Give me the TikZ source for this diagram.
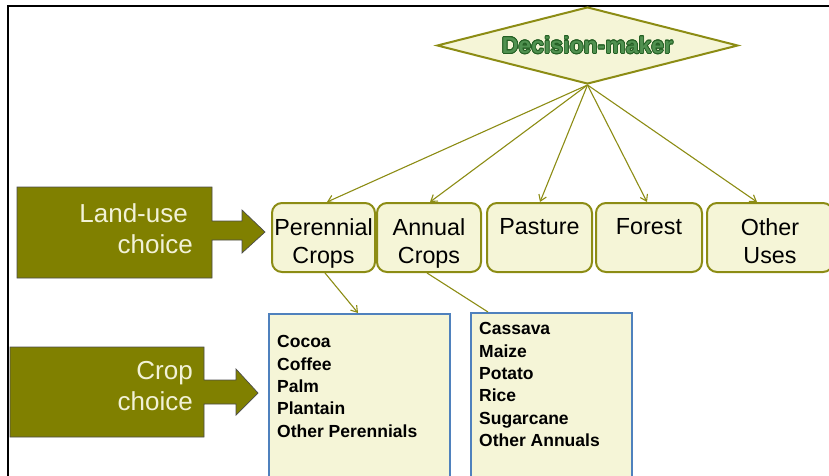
\documentclass[tikz,border=0pt]{standalone}
\usepackage{fontspec}
\setmainfont{Liberation Sans}
\usepackage{contour}
\usetikzlibrary{shapes.geometric,arrows.meta}
\definecolor{olivebk}{RGB}{128,128,0}
\definecolor{oliveln}{RGB}{140,140,20}
\definecolor{cream}{RGB}{245,245,215}
\definecolor{creamtx}{RGB}{242,242,215}
\definecolor{bluebd}{RGB}{79,129,189}
\definecolor{dkgreen}{RGB}{35,95,35}
\definecolor{mdgreen}{RGB}{80,145,80}
\contourlength{0.7pt}
\begin{document}
\begin{tikzpicture}[x=1pt,y=-1pt,
 choicebox/.style={draw=oliveln, line width=2pt, fill=cream, rounded corners=10pt, minimum height=69pt, inner sep=0pt},
 boxtext/.style={font=\fontsize{23.3}{28}\selectfont, align=center, inner sep=0pt, anchor=north},
 listbox/.style={draw=bluebd, line width=2pt, fill=cream, anchor=north west, minimum height=200pt, inner sep=0pt},
 listtext/.style={font=\fontsize{17.5}{22.3}\selectfont\bfseries, align=left, anchor=north west, inner sep=0pt},
 conn/.style={draw=oliveln, line width=1.1pt},
 connarrow/.style={conn, -{Straight Barb[length=6pt,width=8pt]}},
 blockarrow/.style={fill=olivebk, draw=black!70, line width=0.7pt},
 blocktext/.style={font=\fontsize{26}{31}\selectfont, text=creamtx, align=right, inner sep=0pt, anchor=east}]
\useasboundingbox (0,0) rectangle (829,476);
\begin{scope}
\clip (0,0) rectangle (829,476);
\draw[black, line width=2.5pt] (8,480) -- (8,6) -- (832,6);

% decision maker
\node[diamond, aspect=4, draw=oliveln, line width=2pt, fill=cream, minimum width=301pt, minimum height=77pt, inner sep=0pt, text=mdgreen, font=\fontsize{23}{28}\selectfont\bfseries] (dm) at (587.5,45.5) {\contour{dkgreen}{Decision-maker}};

% land-use boxes
\node[choicebox, minimum width=103pt] (pc) at (323.5,237.5) {};
\node[choicebox, minimum width=104pt] (ac) at (429,237.5) {};
\node[choicebox, minimum width=105pt] (pa) at (539.5,237.5) {};
\node[choicebox, minimum width=106pt] (fo) at (649,237.5) {};
\node[choicebox, minimum width=126pt] (ou) at (770,237.5) {};
\node[boxtext] (pct) at ([yshift=-16pt]pc.north) {Perennial\\Crops};
\node[boxtext] (act) at ([yshift=-16pt]ac.north) {Annual\\Crops};
\node[boxtext] (pat) at ([yshift=-16pt]pa.north) {Pasture};
\node[boxtext] (fot) at ([yshift=-16pt]fo.north) {Forest};
\node[boxtext] (out) at ([yshift=-16pt]ou.north) {Other\\Uses};

\draw[connarrow] (dm.south) -- ([xshift=3.5pt]pc.north);
\draw[connarrow] (dm.south) -- ([xshift=1pt]ac.north);
\draw[connarrow] (dm.south) -- ([xshift=0.5pt]pa.north);
\draw[connarrow] (dm.south) -- ([xshift=-2pt]fo.north);
\draw[connarrow] (dm.south) -- ([xshift=-13pt]ou.north);

% block arrows
\path[blockarrow] (17,187) -- (212,187) -- (212,221) -- (242,221) -- (242,210) -- (265,232) -- (242,253) -- (242,240) -- (212,240) -- (212,278) -- (17,278) -- cycle;
\node[blocktext] (lu) at (193,229) {Land-use\kern5pt\\choice};
\path[blockarrow] (10,347) -- (204,347) -- (204,380) -- (236,380) -- (236,369) -- (258,393) -- (236,415) -- (236,404) -- (204,404) -- (204,437) -- (10,437) -- cycle;
\node[blocktext] (cc) at (193,386) {Crop\\choice};

% crop lists
\node[listbox, minimum width=181pt] (pl) at (268,313) {};
\node[listbox, minimum width=161pt] (al) at (470,312) {};
\node[listtext] (plt) at (277,335.5) {Cocoa\\Coffee\\Palm\\Plantain\\Other Perennials};
\node[listtext] (alt) at (479,322.5) {Cassava\\Maize\\Potato\\Rice\\Sugarcane\\Other Annuals};

\draw[connarrow] ([xshift=1.5pt]pc.south) -- ([xshift=90pt]pl.north west);
\draw[conn] ([xshift=-2pt]ac.south) -- ([xshift=18pt]al.north west);
\end{scope}
\end{tikzpicture}
\end{document}
